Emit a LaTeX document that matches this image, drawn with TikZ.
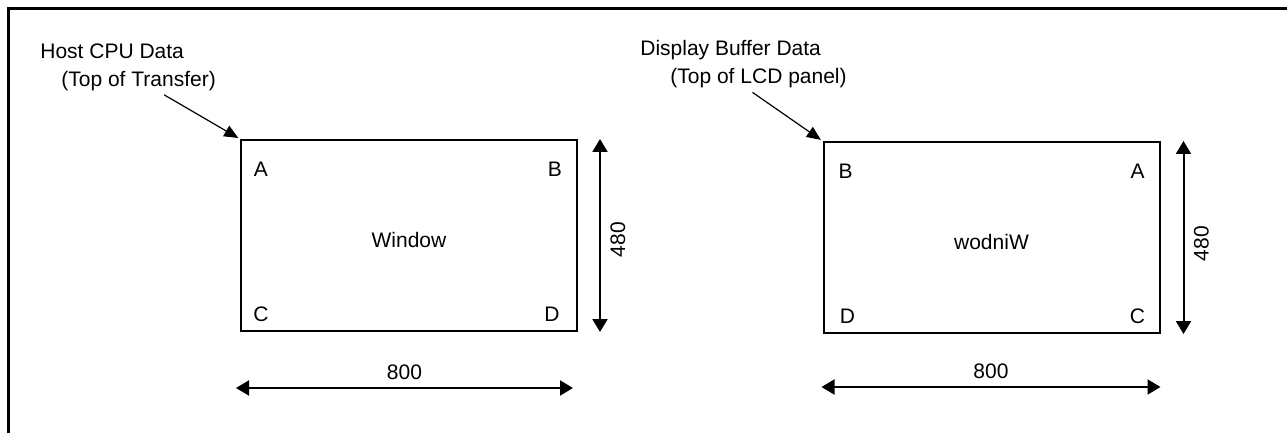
\documentclass[tikz,border=0pt]{standalone}
\usepackage{fontspec}
\setmainfont{Liberation Sans}
\usetikzlibrary{arrows.meta, positioning, calc}

\begin{document}
\begin{tikzpicture}[
    x=0.5pt, y=-0.5pt,
    font=\fontsize{10.5}{14}\selectfont,
    winbox/.style={
        rectangle, draw, line width=1pt, inner sep=0pt,
        minimum width=168pt, minimum height=95.5pt
    },
    note/.style={align=left, inner sep=0pt, anchor=north west},
    corner/.style={inner sep=0pt},
    dimarrow/.style={{Triangle[length=6.5pt, width=7.5pt]}-{Triangle[length=6.5pt, width=7.5pt]}, line width=1pt},
    pointer/.style={-{Triangle[length=7pt, width=6pt]}, line width=0.6pt, shorten >=1pt}
]
    \useasboundingbox (0,0) rectangle (1287,433);
    \draw [line width=1.5pt] (8,433) -- (8,9) -- (1287,9);

    % host side
    \node [winbox] (win) at (409,235.5) {};
    \node at ($(win.center)+(0,4)$) (wintxt) {Window};
    \node [corner] at ($(win.north west)+(21,30)$) (wa) {A};
    \node [corner] at ($(win.north east)+(-23,30)$) (wb) {B};
    \node [corner] at ($(win.south west)+(21,-18)$) (wc) {C};
    \node [corner] at ($(win.south east)+(-26,-18)$) (wd) {D};

    \node [note] (hostlbl) at (40,43) {Host CPU Data\\\hspace{10.5pt}(Top of Transfer)};
    \draw [pointer] ($(hostlbl.south)+(36,4)$) -- (win.north west);

    \coordinate (wvtop) at ($(win.north east)+(22,0)$);
    \coordinate (wvbot) at ($(win.south east)+(22,0)$);
    \draw [dimarrow] (wvtop) -- (wvbot);
    \node [rotate=90] (wh) at ($(wvtop)!0.5!(wvbot)+(18,4)$) {480};

    \coordinate (whl) at ($(win.south west)+(-4,56)$);
    \coordinate (whr) at ($(win.south east)+(-5,56)$);
    \draw [dimarrow] (whl) -- (whr);
    \node (ww) at ($(whl)!0.5!(whr)+(0,-16)$) {800};

    % display side
    \node [winbox] (winr) at (991.5,237.5) {};
    \node at ($(winr.center)+(0,4)$) (winrtxt) {wodniW};
    \node [corner] at ($(winr.north west)+(23,30)$) (rb) {B};
    \node [corner] at ($(winr.north east)+(-23,30)$) (ra) {A};
    \node [corner] at ($(winr.south west)+(25,-18)$) (rd) {D};
    \node [corner] at ($(winr.south east)+(-23,-18)$) (rc) {C};

    \node [note] (displbl) at (640,40) {Display Buffer Data\\\hspace{15pt}(Top of LCD panel)};
    \draw [pointer] ($(displbl.south)+(9,4)$) -- (winr.north west);

    \coordinate (rvtop) at ($(winr.north east)+(23,0)$);
    \coordinate (rvbot) at ($(winr.south east)+(23,0)$);
    \draw [dimarrow] (rvtop) -- (rvbot);
    \node [rotate=90] (rh) at ($(rvtop)!0.5!(rvbot)+(18,6)$) {480};

    \coordinate (rhl) at ($(winr.south west)+(-1,53)$);
    \coordinate (rhr) at ($(winr.south east)+(0,53)$);
    \draw [dimarrow] (rhl) -- (rhr);
    \node (rw) at ($(rhl)!0.5!(rhr)+(0,-16)$) {800};
\end{tikzpicture}
\end{document}
